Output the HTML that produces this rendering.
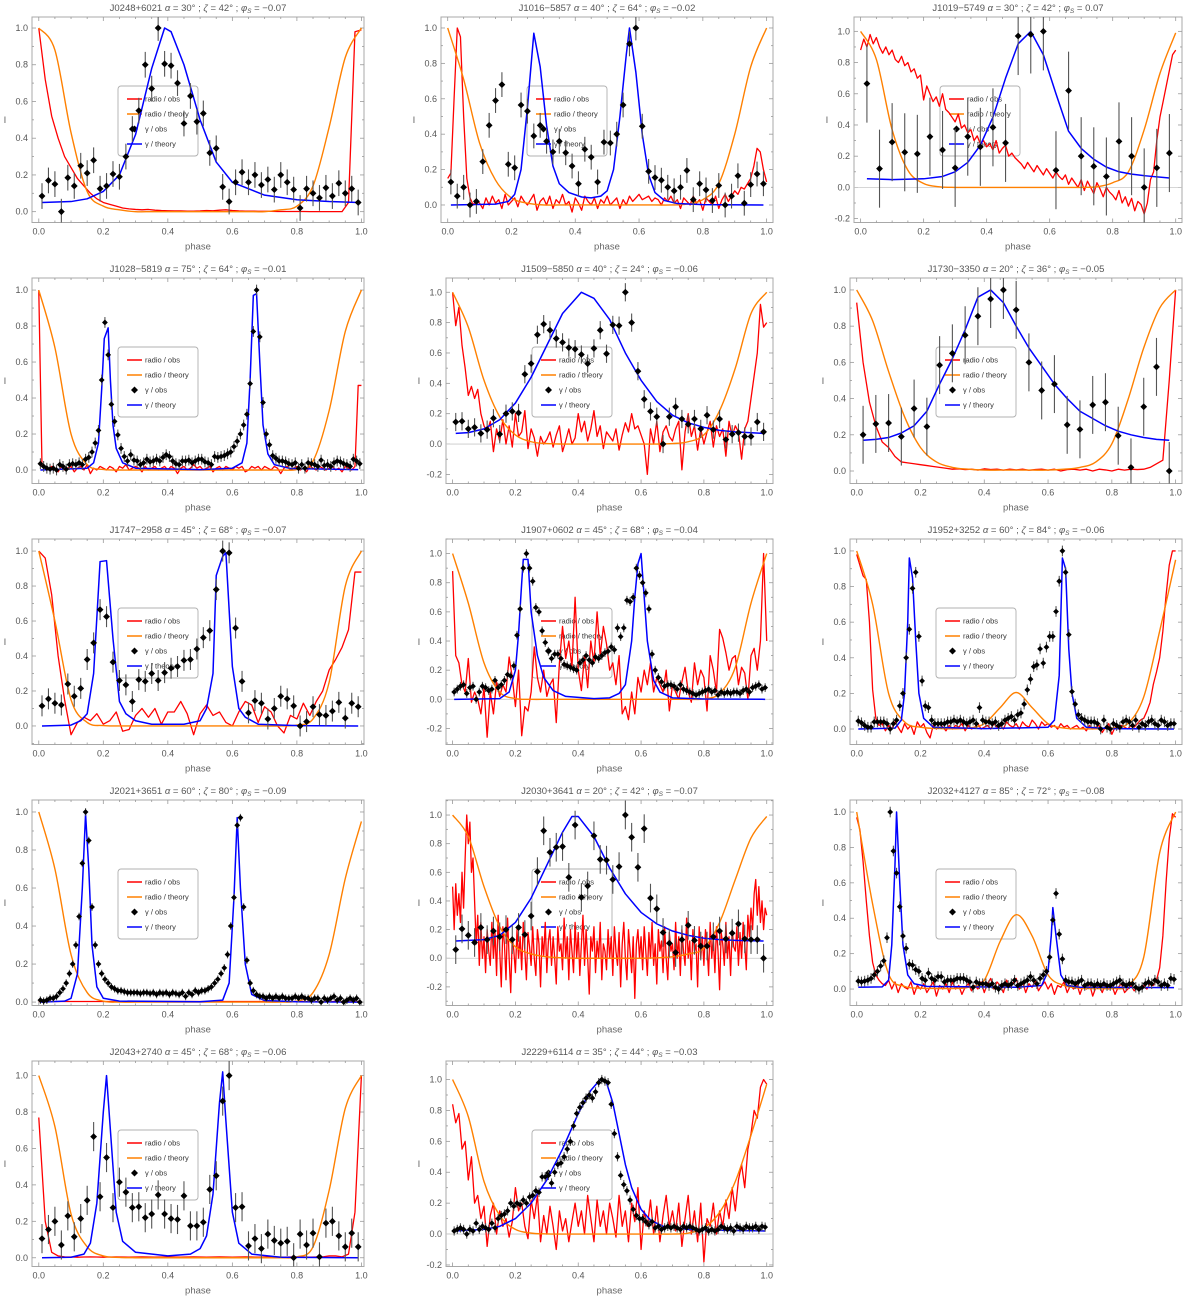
<!DOCTYPE html>
<html>
<head>
<meta charset="utf-8">
<style>
html,body{margin:0;padding:0;background:#fff;}
svg{display:block;font-family:"Liberation Sans",sans-serif;}
</style>
</head>
<body>
<svg id="chart" width="1200" height="1300" viewBox="0 0 1200 1300" xmlns="http://www.w3.org/2000/svg"></svg>
<script>
// ---------- panel meta ----------
const panelNames = ["J0248+6021","J1016−5857","J1019−5749","J1028−5819","J1509−5850","J1730−3350","J1747−2958","J1907+0602","J1952+3252","J2021+3651","J2030+3641","J2032+4127","J2043+2740","J2229+6114"];
const panelAlpha = [30,40,30,75,40,20,45,45,60,60,20,85,45,35];
const panelZeta = [42,64,42,64,24,36,68,68,84,80,42,72,68,44];
const panelPhiS = ["−0.07","−0.02","0.07","−0.01","−0.06","−0.05","−0.07","−0.04","−0.06","−0.09","−0.07","−0.08","−0.06","−0.03"];
const panelYMin = [-0.059,-0.099,-0.225,-0.075,-0.26,-0.069,-0.106,-0.31,-0.087,-0.018,-0.33,-0.093,-0.048,-0.21];
const panelYMax = [1.06,1.062,1.092,1.067,1.094,1.066,1.069,1.10,1.067,1.063,1.105,1.068,1.08,1.12];
const gammaErr = [0.07,0.07,0.25,0.03,0.06,0.16,0.06,0.03,0.03,0.02,0.1,0.03,0.08,0.03];

// ---------- radio theory (phase 0..1, step 0.05) ----------
const rt1=[1,0.88,0.43,0.11,0.03,0.01,0,0,0,0,0,0,0,0,0,0.01,0.03,0.14,0.46,0.84,1.0];
const rt2=[1,0.71,0.35,0.14,0.04,0.01,0,0,0,0,0,0,0,0,0,0.005,0.03,0.12,0.4,0.78,1.0];
const rt3=[1,0.82,0.37,0.11,0.025,0.004,0,0,0,0,0,0,0,0,0,0.004,0.03,0.1,0.37,0.73,0.99];
const rt4=[1,0.68,0.2,0.03,0.003,0,0,0,0,0,0,0,0,0,0,0,0.003,0.05,0.33,0.77,1.0];
const rt5=[1,0.77,0.42,0.18,0.06,0.015,0.003,0,0,0,0,0,0,0,0.003,0.015,0.06,0.22,0.5,0.86,1.0];
const rt6=[1,0.83,0.55,0.3,0.13,0.05,0.02,0.01,0.005,0.005,0.005,0.005,0.005,0.01,0.02,0.05,0.15,0.39,0.68,0.9,1.0];
const rt7=[1,0.6,0.15,0.02,0.002,0,0,0,0,0,0,0,0,0,0,0,0.005,0.04,0.25,0.8,1.0];
const rt8=[1,0.66,0.25,0.05,0.005,0,0,0,0,0,0,0,0,0,0,0,0.003,0.04,0.22,0.66,1.0];
const rt9=[1,0.7,0.2,0.04,0.01,0.003,0.001,0.005,0.03,0.12,0.205,0.12,0.03,0.005,0.001,0.001,0.005,0.03,0.18,0.55,0.95];
const rt10=[1,0.7,0.25,0.05,0.005,0,0,0,0,0,0,0,0,0,0,0,0.005,0.05,0.25,0.65,0.95];
const rt11=[1,0.85,0.5,0.22,0.08,0.03,0.01,0.003,0,0,0,0,0,0.003,0.01,0.03,0.07,0.25,0.55,0.84,0.99];
const rt12=[1,0.48,0.085,0.015,0.005,0.003,0.003,0.01,0.05,0.27,0.42,0.3,0.08,0.02,0.005,0.003,0.003,0.02,0.18,0.77,1.0];
const rt13=[1,0.72,0.24,0.06,0.01,0.002,0,0,0,0,0,0,0,0,0,0,0.005,0.06,0.37,0.82,1.0];
const rt14=[1,0.76,0.34,0.12,0.03,0.006,0.001,0,0,0,0,0,0,0,0,0.006,0.04,0.14,0.34,0.64,0.97];

// ---------- radio observed (uniform phase grid 0..1) ----------
const ro1=[1.0,0.72,0.52,0.4,0.3,0.24,0.18,0.14,0.1,0.07,0.05,0.04,0.03,0.02,0.015,0.012,0.01,0.012,0.008,0.006,0.005,0.004,0.004,0.003,0.003,0.004,0.006,0.005,0.008,0.01,0.006,0.004,0.003,0.003,0.002,0.002,0.002,0.001,0.001,0.001,0.001,0.001,0,0,0,0,0,0,0.05,0.98,0.99];
const ro2=[0.15,0.18,0.6,1.0,0.95,0.5,0.15,0.04,0.0,0.03,
0.01,-0.02,0.04,0.0,0.05,0.01,0.03,-0.02,0.06,0.0,
0.02,0.04,-0.01,0.05,0.02,0.0,0.03,0.06,-0.03,0.02,
0.04,0.0,0.05,-0.02,0.03,0.01,0.06,0.0,0.02,-0.04,
0.04,0.01,-0.03,0.05,0.02,0.0,0.04,-0.02,0.03,0.01,
0.05,0.0,0.02,0.04,-0.02,0.03,0.0,0.05,0.02,0.04,
0.06,0.03,0.04,0.05,0.02,0.04,0.03,0.0,0.04,0.02,
0.05,0.01,0.03,-0.02,0.04,0.02,0.0,0.05,0.01,0.03,
-0.03,0.04,0.02,0.0,0.05,-0.02,0.03,0.06,0.02,0.05,
0.08,0.06,0.1,0.09,0.12,0.15,0.22,0.32,0.3,0.2,0.13];
const ro3=[0.88,0.95,0.9,0.98,0.92,0.96,0.9,0.86,0.9,0.85,
0.88,0.82,0.8,0.84,0.78,0.8,0.74,0.76,0.7,0.72,
0.56,0.65,0.6,0.55,0.58,0.52,0.6,0.5,0.48,0.45,
0.42,0.47,0.38,0.4,0.35,0.37,0.3,0.33,0.28,0.3,
0.26,0.28,0.24,0.3,0.22,0.25,0.27,0.2,0.22,0.19,
0.17,0.15,0.12,0.16,0.13,0.1,0.14,0.11,0.08,0.12,
0.09,0.06,0.1,0.07,0.05,0.08,0.02,0.06,0.03,0.0,
0.05,-0.02,0.04,0.0,-0.04,0.03,-0.01,-0.06,0.0,-0.03,
-0.05,-0.08,-0.02,-0.1,-0.06,-0.12,-0.07,-0.15,-0.09,-0.11,
-0.17,-0.1,0.05,0.1,0.3,0.45,0.55,0.65,0.75,0.85,0.88];
const ro4=[1.0,0.02,0.01,0.0,0.02,0.01,-0.01,0.02,0.0,0.01,
0.02,-0.01,0.01,0.02,0.0,0.03,-0.02,0.01,0.0,0.02,
0.01,0.0,0.02,0.01,-0.01,0.02,0.01,0.03,0.0,0.01,
0.02,0.01,-0.01,0.02,0.0,0.01,0.02,0.0,0.01,0.02,
0.0,0.02,0.01,-0.02,0.01,0.02,0.0,0.01,0.03,0.01,
0.02,0.0,0.01,0.02,-0.01,0.01,0.02,0.0,0.02,0.01,
0.0,0.02,0.01,0.02,-0.01,0.0,0.02,0.01,0.02,0.0,
0.02,0.01,0.0,0.02,0.01,-0.02,0.01,0.02,0.0,0.01,
0.02,0.0,0.01,-0.01,0.02,0.01,0.0,0.02,0.01,0.0,
0.01,0.02,0.0,0.01,-0.01,0.02,0.01,0.0,0.02,0.47,0.47];
const ro5=[1.0,0.78,0.9,0.65,0.5,0.32,0.38,0.3,0.36,0.2,
0.12,0.08,0.15,-0.05,0.1,0.02,0.16,0.0,0.12,-0.02,
0.2,0.05,0.08,0.22,-0.03,0.1,0.04,-0.08,0.05,0.0,
0.03,0.08,-0.02,0.06,0.12,-0.05,0.02,0.1,0.0,0.04,
0.2,0.08,0.15,0.02,0.1,0.22,0.05,0.12,-0.03,0.08,
0.05,0.02,0.1,-0.04,0.06,0.14,0.08,0.2,0.1,0.12,
0.06,0.0,-0.2,0.1,0.0,0.15,-0.05,0.08,0.12,0.05,
0.02,0.1,0.15,-0.17,0.08,0.2,0.05,0.12,-0.04,0.1,
0.0,0.08,0.15,-0.02,0.12,0.05,0.1,-0.08,0.15,0.05,
0.12,0.08,-0.1,0.1,0.15,0.3,0.45,0.6,0.92,0.77,0.8];
const ro6=[0.93,0.6,0.38,0.25,0.16,0.13,0.08,0.05,0.045,0.04,0.035,0.03,0.025,0.02,0.015,0.01,0.012,0.008,0.01,0.005,0.012,0.008,0.01,0.005,0.01,0.006,0.01,0.004,0.008,0.01,0.005,0.01,0.0,0.008,0.01,0.005,0.01,0.0,0.01,0.006,0.0,0.01,0.005,0.01,0.008,0.01,0.02,0.04,0.06,0.5,1.0];
const ro7=[1.0,0.96,0.75,0.4,0.15,-0.05,0.02,0.05,0.03,0.07,0.01,0.03,0.08,-0.03,-0.02,0.06,0.1,0.05,0.1,0.01,0.08,0.08,0.14,0.07,-0.05,0.07,0.12,0.06,0.08,0.02,0.0,0.08,0.14,0.12,0.02,0.11,0.08,0.0,-0.04,0.06,0.04,0.13,0.06,0.14,0.2,0.32,0.38,0.45,0.55,0.88,0.88];
const ro8=[0.88,0.3,0.25,0.1,0.05,0.28,-0.02,0.05,0.0,-0.1,
0.08,-0.26,0.05,-0.1,0.12,0.02,0.1,0.05,0.29,0.15,
-0.05,0.2,-0.25,-0.05,-0.08,0.05,0.36,0.15,0.05,0.2,
0.02,0.1,0.14,-0.16,0.25,0.5,0.28,0.4,0.22,0.7,
0.2,0.06,0.3,0.08,0.4,0.25,0.6,0.3,0.5,0.38,
0.2,0.25,0.1,0.3,-0.1,-0.05,-0.14,0.05,-0.1,0.15,
0.05,0.2,0.1,0.25,0.05,0.15,0.1,0.05,0.2,-0.08,
0.1,0.05,0.0,0.12,0.22,0.05,-0.02,0.25,0.1,0.2,
0.15,-0.08,0.3,0.2,0.05,0.48,0.42,0.32,0.2,0.28,
0.3,0.1,0.22,0.18,0.0,0.3,0.35,0.2,0.4,1.0,0.4];
const ro9=[0.98,0.92,0.86,0.84,0.6,0.22,0.06,0.02,0.03,-0.01,
0.02,0.0,0.04,0.01,-0.02,0.03,0.0,0.02,-0.03,0.04,
0.01,0.03,-0.02,-0.05,0.02,0.0,0.03,0.01,-0.01,0.02,
0.0,0.02,0.01,0.03,-0.01,0.02,0.0,0.01,0.03,0.0,
0.01,0.02,0.0,0.03,0.01,0.02,0.0,0.04,0.02,0.01,
0.03,0.0,0.04,0.02,0.01,0.05,0.03,0.0,0.04,0.02,
0.03,0.01,0.02,0.0,0.03,0.01,0.02,0.0,0.01,0.02,
0.0,0.01,-0.01,0.02,0.0,0.01,0.02,-0.02,0.01,0.03,
-0.03,0.01,0.0,0.02,0.01,0.0,0.02,0.01,0.03,0.05,
0.06,0.1,0.15,0.25,0.32,0.4,0.55,0.75,0.92,1.0,1.0];
const ro10=[0.003,0.003,0.003,0.003,0.003,0.003,0.003,0.003,0.003,0.003,0.003,0.003,0.003,0.003,0.003,0.003,0.003,0.003,0.003,0.003,0.003];
const ro11=[0.5,0.2,0.52,0.3,0.45,0.25,0.6,0.35,0.7,1.0,0.8,0.95,0.6,0.7,0.4,0.1,0.3,-0.05,0.25,0.0,
0.15,-0.1,0.2,0.05,-0.05,0.25,0.0,0.18,-0.12,0.3,0.05,-0.2,0.22,0.1,-0.15,0.28,0.0,-0.24,0.15,0.05,
-0.1,0.2,0.0,0.15,-0.08,0.25,0.05,-0.15,0.18,0.08,-0.05,0.22,0.0,-0.12,0.2,0.1,-0.2,0.15,0.02,0.25,
-0.1,0.12,0.2,-0.05,0.15,0.0,-0.18,0.22,0.05,0.1,-0.08,0.28,0.0,0.15,-0.15,0.2,0.05,-0.1,0.25,0.0,
0.18,-0.12,0.1,0.3,-0.05,0.2,0.0,-0.25,0.15,0.05,0.22,-0.1,0.12,0.0,0.25,-0.15,0.1,0.05,-0.08,0.2,
0.0,0.15,-0.12,0.22,0.05,-0.05,0.18,-0.2,0.1,0.25,0.0,-0.15,0.2,0.05,-0.1,0.15,-0.28,0.1,0.2,0.0,
0.15,-0.08,0.22,0.05,-0.12,0.18,0.0,0.25,-0.05,0.1,-0.18,0.2,0.05,0.12,-0.1,0.22,0.0,-0.15,0.18,0.05,
0.1,-0.08,0.25,0.0,0.15,-0.12,0.2,0.05,-0.05,0.28,0.0,0.12,-0.15,0.2,0.05,0.1,-0.2,0.22,0.0,0.15,
-0.05,0.2,0.08,-0.12,0.25,0.0,0.15,-0.1,0.22,0.05,-0.22,0.18,0.1,-0.05,0.25,0.0,0.15,-0.12,0.2,0.08,
0.05,0.22,-0.05,0.18,0.0,0.25,0.1,-0.08,0.3,0.15,0.35,0.2,0.45,0.55,0.3,0.5,0.25,0.4,0.2,0.35,0.3];
const ro12=[0.97,0.9,0.72,0.5,0.3,0.15,0.08,0.05,0.03,0.02,
0.05,0.0,0.04,-0.02,0.03,0.01,0.0,0.04,-0.03,0.02,
0.0,0.03,-0.02,0.01,0.04,-0.04,0.02,0.0,0.03,-0.02,
0.04,0.0,0.02,-0.03,0.01,0.03,-0.01,0.02,0.0,0.04,
-0.02,0.03,0.06,0.0,0.04,0.02,-0.02,0.05,0.01,0.03,
0.06,0.0,0.04,-0.02,0.03,0.01,0.05,-0.01,0.02,0.04,
0.0,0.03,-0.03,0.02,0.01,0.04,-0.02,0.02,0.0,0.03,
-0.03,0.02,0.0,0.03,-0.04,0.01,0.02,-0.02,0.03,0.0,
0.02,-0.03,0.01,0.03,-0.02,0.0,0.02,-0.01,0.01,0.0,
0.02,0.0,0.03,0.02,0.05,0.12,0.3,0.6,0.85,0.99,0.97];
const ro13=[0.77,0.2,0.03,0.01,0.005,0.004,0.003,0.004,0.005,0.004,0.003,0.004,0.005,0.004,0.003,0.004,0.005,0.004,0.003,0.004,0.005,0.004,0.003,0.004,0.005,0.004,0.003,0.004,0.005,0.004,0.003,0.004,0.005,0.004,0.003,0.004,0.005,0.004,0.003,0.004,0.005,0.004,0.003,0.004,0.005,0.01,0.01,0.005,0.02,0.25,1.0];
const ro14=[0.84,0.72,0.78,0.55,0.6,0.35,0.5,0.2,0.25,0.1,
0.18,-0.08,0.12,0.2,0.0,0.15,0.05,0.1,-0.02,0.08,
0.3,0.15,0.2,0.05,-0.03,0.22,0.1,0.25,-0.05,0.12,
0.0,0.18,0.05,-0.1,0.15,0.02,0.1,-0.05,0.08,0.2,
0.05,0.15,0.0,0.25,0.1,-0.05,0.22,0.05,0.15,0.0,
0.2,0.1,-0.02,0.25,0.05,0.15,-0.05,0.2,0.08,0.3,
-0.1,0.15,0.05,0.22,0.0,0.18,-0.05,0.12,0.25,0.05,
0.15,0.02,0.2,-0.08,0.1,0.25,0.0,0.15,-0.05,0.2,
-0.18,0.1,0.05,0.2,0.0,0.15,0.05,0.22,0.1,0.3,
0.15,0.35,0.45,0.3,0.55,0.65,0.8,0.75,0.95,1.0,0.97];

// ---------- gamma observed (bin centres (i+0.5)/n) ----------
const go1=[0.085,0.17,0.15,0.0,0.185,0.14,0.25,0.21,0.28,0.125,0.14,0.205,0.19,0.3,0.45,0.55,0.8,0.67,1.0,0.805,0.795,0.7,0.48,0.63,0.49,0.535,0.32,0.345,0.135,0.055,0.16,0.215,0.16,0.2,0.145,0.175,0.12,0.2,0.16,0.12,0.02,0.125,0.1,0.075,0.13,0.085,0.155,0.1,0.125,0.05];
const go2=[0.13,0.05,0.1,0.0,0.02,0.245,0.45,0.59,0.68,0.23,0.21,0.565,0.53,0.39,0.45,0.36,0.3,0.36,0.295,0.22,0.12,0.315,0.27,0.13,0.355,0.35,0.4,0.565,0.91,1.0,0.445,0.19,0.155,0.14,0.1,0.08,0.1,0.195,0.03,0.12,0.085,0.025,0.11,0.0,0.05,0.165,0.01,0.115,0.175,0.12];
const go3=[0.665,0.12,0.29,0.225,0.215,0.325,0.24,0.125,0.325,0.26,0.385,0.285,0.97,0.98,1.0,0.11,0.62,0.2,0.135,0.07,0.295,0.2,0.0,0.125,0.22];
const go4=[0.035,0.02,0.01,0.005,0.01,0.0,0.03,0.02,0.005,0.03,
0.035,0.03,0.04,0.03,0.06,0.07,0.1,0.15,0.22,0.5,
0.82,0.64,0.365,0.27,0.195,0.12,0.075,0.05,0.085,0.055,
0.05,0.03,0.04,0.06,0.045,0.05,0.06,0.05,0.07,0.085,
0.075,0.05,0.035,0.03,0.05,0.05,0.055,0.04,0.05,0.06,
0.06,0.045,0.04,0.03,0.075,0.07,0.075,0.08,0.09,0.1,
0.13,0.16,0.2,0.25,0.31,0.48,0.77,1.0,0.74,0.375,
0.2,0.14,0.08,0.065,0.05,0.05,0.045,0.035,0.03,0.04,
0.01,0.03,0.01,0.04,0.035,0.03,0.02,0.055,0.025,0.03,
0.02,0.04,0.05,0.045,0.035,0.03,0.02,0.06,0.05,0.035];
const go5=[0.145,0.15,0.1,0.11,0.07,0.095,0.17,0.065,0.2,0.215,0.205,0.46,0.53,0.72,0.79,0.75,0.695,0.67,0.635,0.625,0.59,0.53,0.63,0.75,0.595,0.785,0.78,1.0,0.8,0.48,0.295,0.215,0.18,0.0,0.18,0.245,0.165,0.13,0.165,0.1,0.19,0.095,0.165,0.03,0.065,0.075,0.05,0.05,0.145,0.08];
const go6=[0.2,0.26,0.265,0.19,0.345,0.245,0.585,0.65,0.75,0.855,0.95,1.0,0.89,0.6,0.445,0.48,0.255,0.23,0.365,0.38,0.195,0.02,0.355,0.575,0.0];
const go7=[0.115,0.155,0.13,0.12,0.24,0.17,0.215,0.38,0.475,0.665,0.625,0.365,0.26,0.235,0.14,0.265,0.255,0.3,0.26,0.305,0.33,0.34,0.375,0.38,0.44,0.505,0.545,0.78,1.0,0.99,0.56,0.255,0.075,0.145,0.13,0.04,0.1,0.17,0.155,0.115,0.0,0.025,0.11,0.065,0.06,0.085,0.135,0.045,0.13,0.11];
const go8=[0.05,0.07,0.09,0.1,0.04,0.08,0.09,0.0,0.05,0.09,
0.08,0.06,0.07,0.13,0.08,0.1,0.13,0.17,0.16,0.23,
0.44,0.62,0.9,1.0,0.9,0.81,0.63,0.6,0.47,0.39,
0.33,0.28,0.31,0.31,0.28,0.24,0.23,0.22,0.21,0.2,
0.25,0.27,0.3,0.27,0.25,0.29,0.28,0.3,0.32,0.33,
0.36,0.34,0.49,0.43,0.49,0.68,0.67,0.7,0.9,0.85,
0.8,0.73,0.62,0.31,0.2,0.15,0.12,0.09,0.1,0.1,
0.09,0.07,0.1,0.07,0.06,0.05,0.04,0.03,0.04,0.05,
0.06,0.07,0.05,0.06,0.03,0.05,0.04,0.05,0.04,0.05,
0.05,0.04,0.06,0.07,0.05,0.08,0.09,0.1,0.07,0.08];
const go9=[0.045,0.035,0.02,0.01,0.01,0.04,0.04,0.04,0.04,0.03,
0.0,0.03,0.05,0.13,0.2,0.4,0.56,0.79,0.88,0.52,
0.27,0.13,0.12,0.05,0.03,0.03,0.03,0.03,0.04,0.04,
0.05,0.04,0.05,0.04,0.03,0.04,0.05,0.03,0.12,0.05,
0.04,0.04,0.03,0.04,0.02,0.03,0.05,0.06,0.07,0.05,
0.08,0.09,0.14,0.22,0.28,0.35,0.36,0.45,0.37,0.46,
0.52,0.52,0.66,0.83,1.0,0.88,0.53,0.21,0.14,0.08,
0.06,0.05,0.04,0.04,0.04,0.03,0.0,0.05,0.01,0.0,
0.03,0.02,0.01,0.04,0.05,0.04,0.02,0.05,0.01,0.03,
0.02,0.04,0.05,0.03,0.02,0.05,0.04,0.02,0.03,0.03];
const go10=[0.01,0.005,0.01,0.02,0.02,0.03,0.05,0.07,0.1,0.15,
0.2,0.3,0.45,0.73,1.0,0.85,0.5,0.3,0.2,0.15,
0.12,0.1,0.08,0.07,0.06,0.06,0.055,0.05,0.05,0.05,
0.05,0.045,0.05,0.05,0.045,0.05,0.04,0.05,0.045,0.05,
0.04,0.05,0.045,0.04,0.05,0.03,0.05,0.04,0.06,0.05,
0.06,0.06,0.07,0.08,0.1,0.12,0.15,0.18,0.25,0.4,
0.55,0.93,0.97,0.5,0.22,0.1,0.06,0.04,0.03,0.03,
0.02,0.03,0.02,0.03,0.02,0.03,0.02,0.02,0.02,0.03,
0.02,0.03,0.02,0.02,0.01,0.02,0.02,0.0,0.02,0.01,
0.02,0.03,0.01,0.02,0.0,0.01,0.02,0.01,0.02,0.0];
const go11=[0.06,0.205,0.16,0.11,0.215,0.13,0.19,0.15,0.2,0.13,0.215,0.165,0.295,0.605,0.89,0.74,0.775,0.78,0.565,0.93,0.425,0.505,0.855,0.69,0.685,0.55,0.64,1.0,0.845,0.635,0.905,0.42,0.345,0.18,0.105,0.04,0.13,0.23,0.125,0.085,0.085,0.15,0.19,0.135,0.175,0.24,0.135,0.13,0.13,0.0];
const go12=[0.045,0.04,0.045,0.05,0.06,0.08,0.1,0.13,0.16,0.29,
1.0,0.78,0.655,0.465,0.3,0.23,0.14,0.135,0.11,0.1,
0.06,0.05,0.09,0.06,0.05,0.07,0.07,0.04,0.05,0.05,
0.05,0.06,0.06,0.06,0.05,0.04,0.01,0.04,0.03,0.03,
0.03,0.02,0.03,0.01,0.0,0.02,0.03,0.02,0.03,0.05,
0.02,0.03,0.04,0.05,0.07,0.05,0.03,0.06,0.08,0.1,
0.18,0.39,0.54,0.31,0.17,0.05,0.04,0.04,0.03,0.04,
0.05,0.02,0.03,0.03,0.02,0.03,0.02,0.03,0.02,0.02,
0.03,0.04,0.05,0.03,0.02,0.03,0.03,0.01,0.0,0.01,
0.03,0.04,0.03,0.05,0.04,0.02,0.03,0.02,0.06,0.055];
const go13=[0.105,0.155,0.2,0.07,0.23,0.115,0.215,0.315,0.665,0.335,0.55,0.275,0.415,0.36,0.275,0.28,0.22,0.24,0.345,0.24,0.215,0.21,0.34,0.175,0.175,0.195,0.375,0.45,0.86,1.0,0.275,0.28,0.065,0.105,0.05,0.13,0.095,0.08,0.09,0.0,0.13,0.07,0.135,0.005,0.19,0.2,0.12,0.06,0.135,0.06];
const go14=[0.02,0.03,0.04,0.03,0.0,0.03,0.02,0.07,0.03,0.05,
0.04,0.03,0.07,0.04,0.1,0.12,0.13,0.15,0.2,0.18,
0.2,0.19,0.22,0.2,0.24,0.25,0.28,0.27,0.37,0.37,
0.38,0.33,0.4,0.45,0.46,0.5,0.55,0.6,0.7,0.78,
0.82,0.85,0.88,0.9,0.88,0.92,0.98,1.0,0.99,0.98,
0.84,0.65,0.5,0.38,0.32,0.28,0.22,0.16,0.12,0.1,
0.1,0.08,0.06,0.08,0.04,0.05,0.03,0.04,0.05,0.04,
0.05,0.04,0.03,0.05,0.04,0.05,0.04,0.03,0.02,0.03,
0.04,0.02,0.03,0.02,0.03,0.05,0.04,0.03,0.04,0.02,
0.05,0.04,0.03,0.05,0.04,0.04,0.05,0.03,0.05,0.045];

// ---------- gamma theory (phase / value pairs) ----------
const gtp1=[0.01,0.1,0.15,0.2,0.25,0.3,0.35,0.39,0.41,0.45,0.5,0.55,0.6,0.7,0.8,0.9,0.99];
const gtv1=[0.05,0.055,0.07,0.11,0.2,0.42,0.78,1.0,0.98,0.8,0.5,0.27,0.16,0.09,0.065,0.055,0.05];
const gtp2=[0.01,0.15,0.19,0.21,0.23,0.25,0.27,0.29,0.31,0.33,0.35,0.38,0.42,0.45,0.48,0.5,0.52,0.54,0.56,0.57,0.59,0.61,0.63,0.65,0.68,0.72,0.8,0.99];
const gtv2=[0,0.005,0.02,0.06,0.2,0.55,0.97,0.78,0.45,0.22,0.12,0.07,0.045,0.04,0.05,0.08,0.2,0.5,0.85,1.0,0.75,0.4,0.17,0.07,0.025,0.008,0.002,0];
const gtp3=[0.02,0.1,0.2,0.26,0.3,0.34,0.38,0.42,0.46,0.5,0.54,0.58,0.62,0.66,0.7,0.74,0.78,0.82,0.86,0.9,0.98];
const gtv3=[0.055,0.05,0.055,0.07,0.1,0.16,0.27,0.45,0.7,0.92,1.0,0.85,0.6,0.36,0.25,0.18,0.13,0.1,0.085,0.075,0.06];
const gtp4=[0.005,0.15,0.17,0.185,0.195,0.203,0.215,0.222,0.23,0.24,0.26,0.3,0.5,0.6,0.63,0.645,0.655,0.665,0.675,0.685,0.695,0.71,0.73,0.78,0.99];
const gtv4=[0,0.01,0.04,0.15,0.45,0.73,0.79,0.5,0.25,0.12,0.04,0.01,0.002,0.01,0.04,0.15,0.5,0.97,0.98,0.6,0.25,0.09,0.03,0.008,0.002];
const gtp5=[0.01,0.05,0.1,0.15,0.2,0.25,0.3,0.35,0.41,0.45,0.5,0.55,0.6,0.65,0.7,0.75,0.8,0.85,0.9,0.99];
const gtv5=[0.07,0.075,0.1,0.16,0.27,0.44,0.65,0.86,1.0,0.96,0.82,0.6,0.42,0.28,0.19,0.14,0.11,0.09,0.08,0.07];
const gtp6=[0.02,0.06,0.1,0.14,0.18,0.22,0.26,0.3,0.34,0.38,0.42,0.46,0.5,0.54,0.58,0.62,0.66,0.7,0.74,0.78,0.82,0.86,0.9,0.94,0.98];
const gtv6=[0.17,0.175,0.185,0.21,0.25,0.33,0.48,0.62,0.78,0.96,1.0,0.93,0.8,0.68,0.58,0.48,0.4,0.33,0.29,0.25,0.22,0.2,0.185,0.175,0.17];
const gtp7=[0.01,0.1,0.13,0.15,0.17,0.19,0.21,0.23,0.25,0.27,0.3,0.35,0.45,0.5,0.52,0.54,0.55,0.57,0.58,0.6,0.62,0.64,0.68,0.8,0.99];
const gtv7=[0,0.005,0.03,0.07,0.3,0.94,0.945,0.5,0.14,0.07,0.03,0.01,0.01,0.03,0.1,0.3,0.86,0.97,0.99,0.34,0.1,0.05,0.01,0.002,0];
const gtp8=[0.005,0.15,0.18,0.2,0.21,0.22,0.225,0.24,0.25,0.27,0.29,0.32,0.36,0.45,0.5,0.53,0.55,0.57,0.58,0.59,0.6,0.61,0.62,0.64,0.66,0.7,0.8,0.995];
const gtv8=[0,0.005,0.05,0.2,0.45,0.8,0.96,0.96,0.6,0.3,0.15,0.06,0.02,0.005,0.01,0.04,0.1,0.4,0.7,0.93,1.0,0.7,0.4,0.13,0.05,0.01,0.002,0];
const gtp9=[0.005,0.12,0.14,0.15,0.16,0.165,0.175,0.185,0.195,0.21,0.24,0.4,0.6,0.62,0.635,0.645,0.655,0.665,0.675,0.69,0.72,0.8,0.995];
const gtv9=[0,0.005,0.05,0.2,0.6,0.96,0.85,0.5,0.2,0.06,0.01,0.002,0.01,0.05,0.3,0.96,0.9,0.45,0.2,0.06,0.01,0.002,0];
const gtp10=[0.005,0.08,0.1,0.12,0.135,0.145,0.155,0.165,0.18,0.2,0.25,0.5,0.57,0.59,0.605,0.615,0.625,0.64,0.66,0.7,0.8,0.995];
const gtv10=[0,0.005,0.02,0.15,0.6,0.99,0.7,0.3,0.08,0.02,0.005,0.002,0.01,0.1,0.55,0.97,0.6,0.2,0.04,0.008,0.002,0];
const gtp11=[0.01,0.1,0.15,0.2,0.25,0.3,0.35,0.38,0.4,0.45,0.5,0.55,0.6,0.65,0.7,0.75,0.8,0.85,0.9,0.99];
const gtv11=[0.12,0.13,0.16,0.25,0.42,0.65,0.88,0.99,0.99,0.85,0.63,0.45,0.32,0.24,0.19,0.16,0.14,0.13,0.125,0.12];
const gtp12=[0.005,0.08,0.1,0.11,0.12,0.125,0.135,0.145,0.16,0.18,0.22,0.5,0.58,0.6,0.61,0.615,0.625,0.64,0.66,0.7,0.995];
const gtv12=[0.01,0.012,0.05,0.25,0.7,1.0,0.6,0.25,0.08,0.03,0.015,0.01,0.02,0.1,0.3,0.46,0.3,0.08,0.02,0.01,0.008];
const gtp13=[0.01,0.1,0.14,0.16,0.18,0.2,0.21,0.22,0.24,0.26,0.3,0.4,0.47,0.5,0.52,0.54,0.56,0.57,0.58,0.6,0.62,0.66,0.75,0.99];
const gtv13=[0,0.003,0.02,0.08,0.3,0.8,1.0,0.75,0.25,0.09,0.03,0.01,0.02,0.05,0.12,0.35,0.85,1.02,0.75,0.25,0.08,0.02,0.003,0];
const gtp14=[0.005,0.1,0.15,0.2,0.25,0.3,0.35,0.4,0.44,0.47,0.49,0.51,0.53,0.55,0.57,0.6,0.63,0.67,0.75,0.85,0.995];
const gtv14=[0.02,0.03,0.05,0.1,0.2,0.35,0.55,0.78,0.93,1.0,0.98,0.85,0.65,0.45,0.3,0.16,0.09,0.05,0.03,0.025,0.02];

const radioTheory=[rt1,rt2,rt3,rt4,rt5,rt6,rt7,rt8,rt9,rt10,rt11,rt12,rt13,rt14];
const radioObs=[ro1,ro2,ro3,ro4,ro5,ro6,ro7,ro8,ro9,ro10,ro11,ro12,ro13,ro14];
const gammaObs=[go1,go2,go3,go4,go5,go6,go7,go8,go9,go10,go11,go12,go13,go14];
const gammaTheoryPhase=[gtp1,gtp2,gtp3,gtp4,gtp5,gtp6,gtp7,gtp8,gtp9,gtp10,gtp11,gtp12,gtp13,gtp14];
const gammaTheoryValue=[gtv1,gtv2,gtv3,gtv4,gtv5,gtv6,gtv7,gtv8,gtv9,gtv10,gtv11,gtv12,gtv13,gtv14];
const xTicks=[0,0.2,0.4,0.6,0.8,1.0];
const xTickLabels=["0.0","0.2","0.4","0.6","0.8","1.0"];
const yTicks=[-0.2,0,0.2,0.4,0.6,0.8,1.0];
const yTickLabels=["-0.2","0.0","0.2","0.4","0.6","0.8","1.0"];

// ---------- drawing ----------
const NS="http://www.w3.org/2000/svg";
const svg=document.getElementById('chart');
function mk(tag,parent){const e=document.createElementNS(NS,tag);parent.appendChild(e);return e;}
function at(e,o){for(const k in o)e.setAttribute(k,o[k]);return e;}
function linePath(pts){return pts.map((p,i)=>(i?'L':'M')+p[0].toFixed(2)+' '+p[1].toFixed(2)).join(' ');}
function smoothPath(pts){
  let d='M'+pts[0][0].toFixed(2)+' '+pts[0][1].toFixed(2);
  for(let i=0;i<pts.length-1;i++){
    const p0=pts[Math.max(i-1,0)],p1=pts[i],p2=pts[i+1],p3=pts[Math.min(i+2,pts.length-1)];
    const c1=[p1[0]+(p2[0]-p0[0])/6,p1[1]+(p2[1]-p0[1])/6];
    const c2=[p2[0]-(p3[0]-p1[0])/6,p2[1]-(p3[1]-p1[1])/6];
    d+=' C'+c1[0].toFixed(2)+' '+c1[1].toFixed(2)+' '+c2[0].toFixed(2)+' '+c2[1].toFixed(2)+' '+p2[0].toFixed(2)+' '+p2[1].toFixed(2);
  }
  return d;
}
const colLeft=[32,441,850], colLeftNeg=[37,446,854], colRight=[364,773,1182];
const slug=s=>s.replace('−','m').replace('+','p').toLowerCase();

for(let i=0;i<14;i++){
  const col=i%3,row=Math.floor(i/3);
  const ymin=panelYMin[i],ymax=panelYMax[i];
  const neg=ymin<-0.15;
  const L=neg?colLeftNeg[col]:colLeft[col], R=colRight[col];
  const T=row*261+17, B=row*261+222.5;
  const xmin=-0.021, xmax=col===0?1.008:1.02;
  const X=v=>L+(v-xmin)/(xmax-xmin)*(R-L);
  const Y=v=>B-(v-ymin)/(ymax-ymin)*(B-T);
  const id=slug(panelNames[i]);
  const g=mk('g',svg);
  
  

  const clip=mk('clipPath',g); clip.setAttribute('id','clip'+i);
  at(mk('rect',clip),{x:L,y:T,width:R-L,height:B-T});

  // title
  const title=mk('text',g);
  
  
  at(title,{x:(L+R)/2,y:row*261+11,'text-anchor':'middle','font-size':'9.5',fill:'#555'});
  title.innerHTML=panelNames[i]+' <tspan font-style="italic">α</tspan> = '+panelAlpha[i]+'° ; <tspan font-style="italic">ζ</tspan> = '+panelZeta[i]+'° ; <tspan font-style="italic">φ</tspan><tspan font-size="6.5" dy="2" font-style="italic">S</tspan><tspan dy="-2"> = '+panelPhiS[i]+'</tspan>';

  // frame
  const frame=mk('rect',g);
  
  
  at(frame,{x:L,y:T,width:R-L,height:B-T,fill:'none',stroke:'#a8a8a8','stroke-width':'1'});

  // x ticks
  const xAxis=mk('g',g);
  
  
  for(let t=0;t<=20;t++){
    const v=t*0.05, x=X(v), major=(t%4===0), len=major?4:2;
    at(mk('line',xAxis),{x1:x,x2:x,y1:B,y2:B-len,stroke:'#999','stroke-width':'0.8'});
    at(mk('line',xAxis),{x1:x,x2:x,y1:T,y2:T+len,stroke:'#999','stroke-width':'0.8'});
  }
  xTicks.forEach((v,k)=>{
    const lab=mk('text',xAxis);
    
    
    at(lab,{x:X(v),y:B+12,'text-anchor':'middle','font-size':'9',fill:'#555'});
    lab.textContent=xTickLabels[k];
  });
  const xt=mk('text',xAxis);
  
  
  at(xt,{x:(L+R)/2,y:B+27,'text-anchor':'middle','font-size':'9.5',fill:'#666'});
  xt.textContent='phase';

  // y ticks
  const yAxis=mk('g',g);
  
  
  for(let t=-5;t<=11;t++){
    const v=t*0.1; if(v<ymin||v>ymax) continue;
    const y=Y(v), major=(t%2===0), len=major?4:2;
    at(mk('line',yAxis),{x1:L,x2:L+len,y1:y,y2:y,stroke:'#999','stroke-width':'0.8'});
    at(mk('line',yAxis),{x1:R,x2:R-len,y1:y,y2:y,stroke:'#999','stroke-width':'0.8'});
  }
  yTicks.forEach((v,k)=>{
    if(v<ymin) return;
    const lab=mk('text',yAxis);
    
    
    at(lab,{x:L-4,y:Y(v)+3,'text-anchor':'end','font-size':'9',fill:'#555'});
    lab.textContent=yTickLabels[k];
  });
  const yt=mk('text',yAxis);
  
  
  at(yt,{x:L-27,y:(T+B)/2+3,'text-anchor':'middle','font-size':'9.5',fill:'#666'});
  yt.textContent='I';

  if(neg){
    const zl=mk('line',g);
    
    
    at(zl,{x1:L,x2:R,y1:Y(0),y2:Y(0),stroke:'#c8c8c8','stroke-width':'0.8'});
  }

  // legend
  const lx=L+86, ly=T+69;
  const lg=mk('g',g);
  
  
  at(mk('rect',lg),{x:lx,y:ly,width:80,height:70,rx:3,fill:'#fff',stroke:'#b0b0b0','stroke-width':'0.9'});
  const legLabels=['radio / obs','radio / theory','γ / obs','γ / theory'];
  const legColors=['#ff0000','#ff8000',null,'#0000ff'];
  for(let k=0;k<4;k++){
    const ey=ly+13+k*15;
    const entry=mk('g',lg);
    
    
    if(legColors[k]) at(mk('line',entry),{x1:lx+9,x2:lx+24,y1:ey,y2:ey,stroke:legColors[k],'stroke-width':'1.5'});
    else at(mk('path',entry),{d:`M${lx+16.5} ${ey-3.5}L${lx+20} ${ey}L${lx+16.5} ${ey+3.5}L${lx+13} ${ey}Z`,fill:'#000'});
    const tx=mk('text',entry);
    at(tx,{x:lx+27,y:ey+2.7,'font-size':'7.5',fill:'#333'});
    tx.textContent=legLabels[k];
  }

  const data=mk('g',g);
  data.setAttribute('clip-path','url(#clip'+i+')');

  // radio obs
  const ro=radioObs[i];
  const roPts=ro.map((v,k)=>[X(k/(ro.length-1)),Y(v)]);
  const rp=mk('path',data);
  
  
  at(rp,{d:linePath(roPts),fill:'none',stroke:'#ff0000','stroke-width':'1.3','stroke-linejoin':'round'});

  // radio theory
  const rt=radioTheory[i];
  const rtPts=rt.map((v,k)=>[X(k/(rt.length-1)),Y(v)]);
  const op=mk('path',data);
  
  
  at(op,{d:smoothPath(rtPts),fill:'none',stroke:'#ff8000','stroke-width':'1.4'});

  // gamma theory
  const gp=gammaTheoryPhase[i], gv=gammaTheoryValue[i];
  const gtPts=gp.map((p,k)=>[X(p),Y(gv[k])]);
  const bp=mk('path',data);
  
  
  at(bp,{d:linePath(gtPts),fill:'none',stroke:'#0000ff','stroke-width':'1.5','stroke-linejoin':'round'});

  // gamma obs
  const go=gammaObs[i], n=go.length, err=gammaErr[i];
  const s=n>60?2.9:3.4;
  const pts=mk('g',data);
  
  
  go.forEach((v,k)=>{
    const x=X((k+0.5)/n), y=Y(v);
    const eb=mk('line',pts);
    
    
    at(eb,{x1:x,x2:x,y1:Y(v+err),y2:Y(v-err),stroke:'#555','stroke-width':'1.1'});
    const d=mk('path',pts);
    
    
    at(d,{d:`M${x} ${y-s}L${x+s} ${y}L${x} ${y+s}L${x-s} ${y}Z`,fill:'#000'});
  });
}
</script>
</body>
</html>
